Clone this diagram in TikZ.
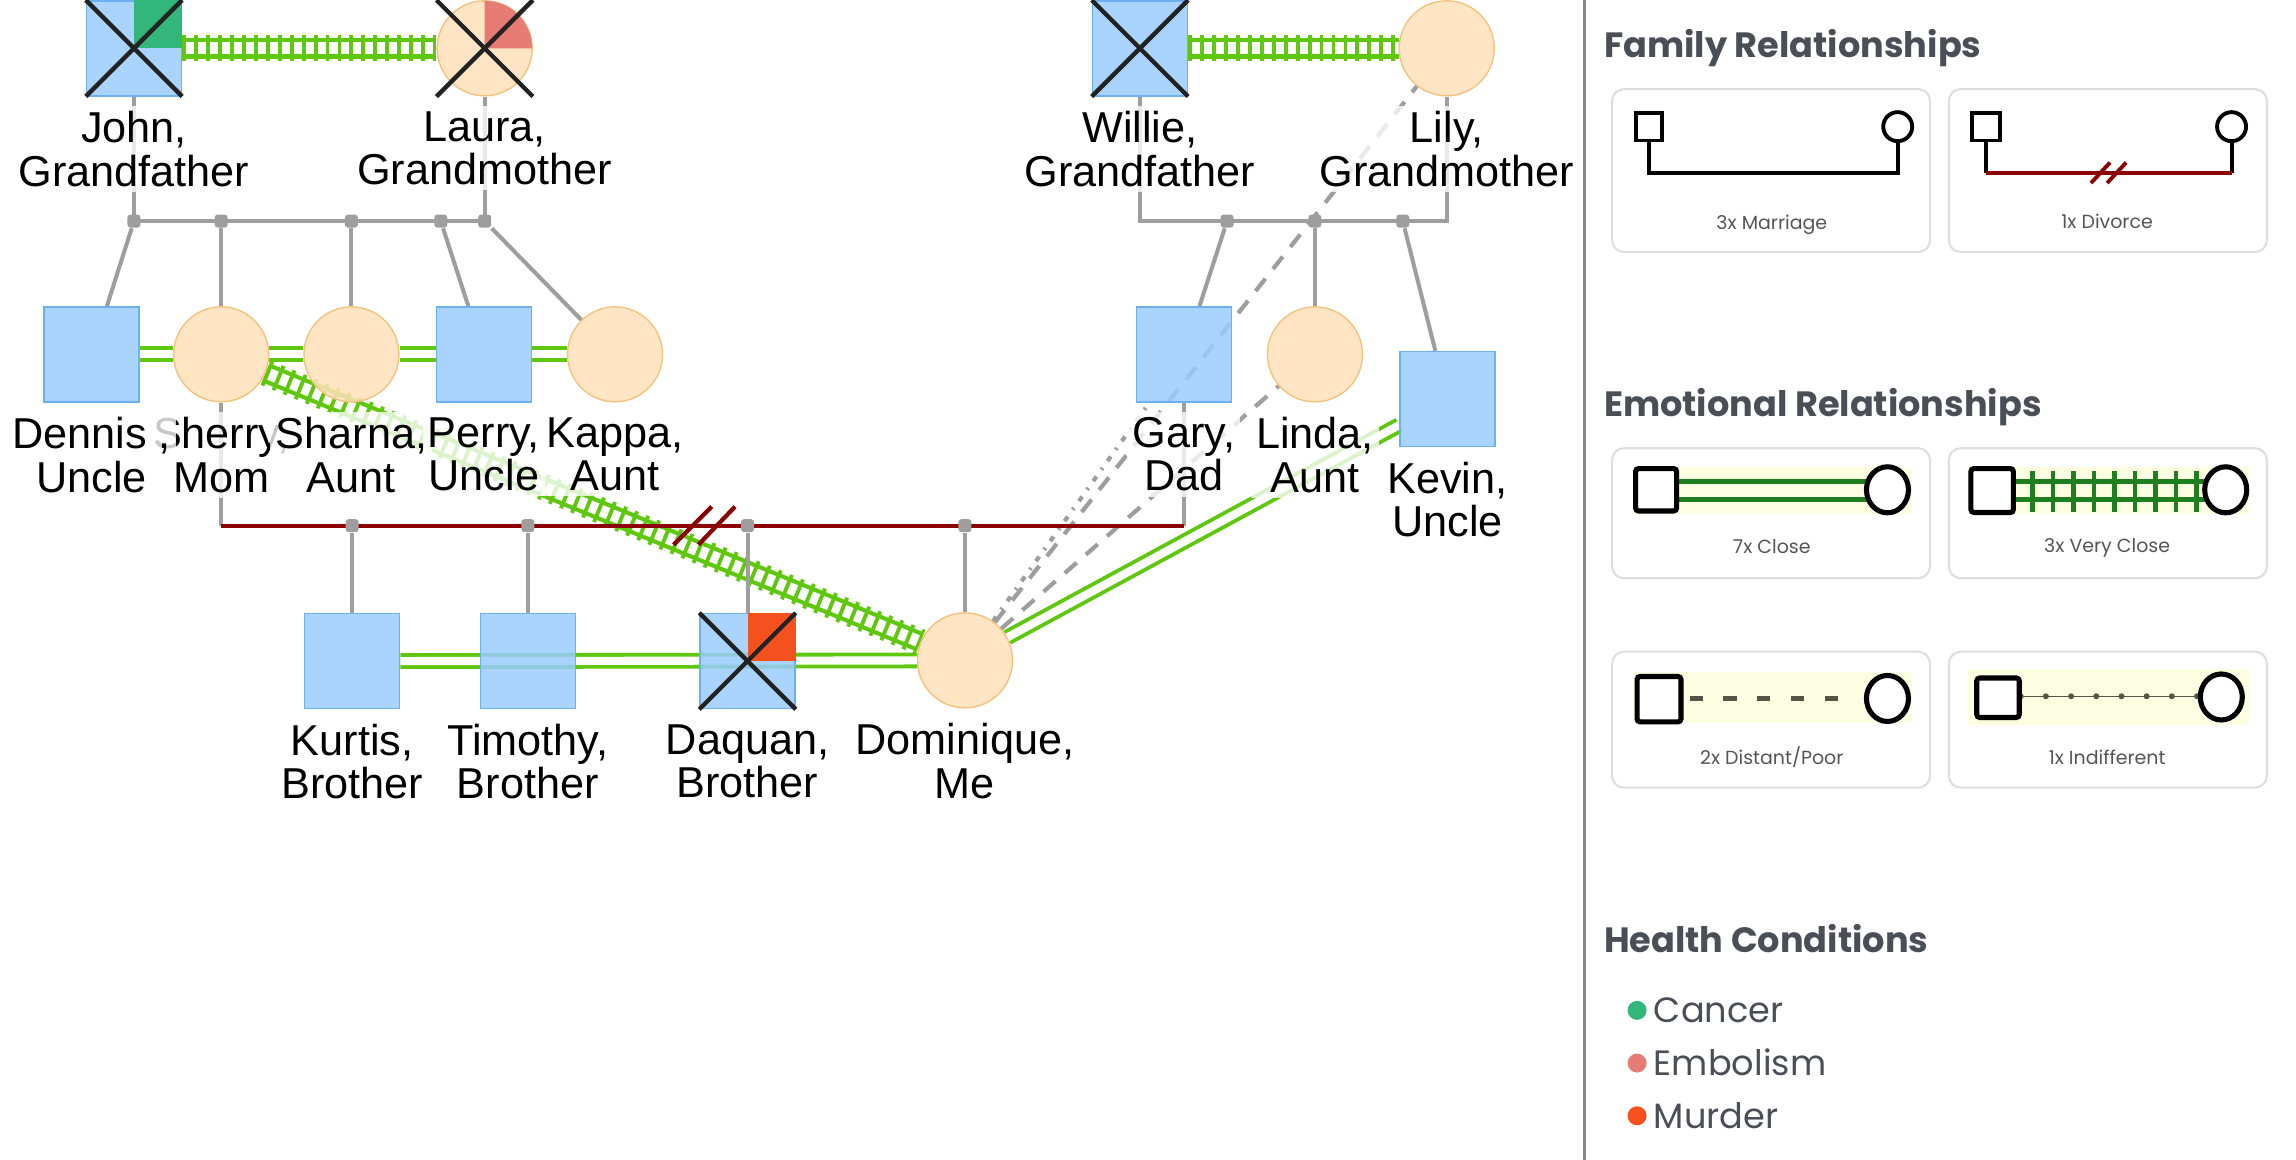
\documentclass[tikz,border=0pt]{standalone}
\usepackage{fontspec}
\setmainfont{Liberation Sans}
\newfontfamily\legendfont{Poppins}
\usetikzlibrary{positioning,backgrounds}

\definecolor{maleblue}{HTML}{99CCFF}
\definecolor{maleedge}{HTML}{6BB0F2}
\definecolor{femfill}{HTML}{FFE1B9}
\definecolor{femedge}{HTML}{F5C27E}
\definecolor{cancer}{HTML}{33B679}
\definecolor{embolism}{HTML}{E67C73}
\definecolor{murder}{HTML}{F4511E}
\definecolor{closegreen}{HTML}{5FC80E}
\definecolor{famgray}{HTML}{9E9E9E}
\definecolor{divred}{HTML}{8B0000}
\definecolor{deadblack}{HTML}{222222}
\definecolor{headgray}{HTML}{4A4F57}
\definecolor{cardedge}{HTML}{DEDEDE}
\definecolor{cardtext}{HTML}{555555}
\definecolor{divider}{HTML}{888888}
\definecolor{iconbg}{HTML}{FCFDE1}
\definecolor{icongreen}{HTML}{1E7F1E}
\definecolor{dashicon}{HTML}{545447}

\begin{document}
\begin{tikzpicture}[
  x=0.14643mm, y=-0.14643mm,
  male/.style={draw=maleedge, fill=maleblue, fill opacity=0.85, text opacity=1, minimum size=9.5mm, inner sep=0pt, line width=0.4pt},
  female/.style={male, circle, draw=femedge, fill=femfill},
  who/.style={font=\fontsize{12.3}{12.3}\selectfont, align=center, inner sep=1.5pt, fill=white, fill opacity=0.78, text opacity=1},
  junct/.style={fill=famgray, minimum size=1.3mm, inner sep=0pt, rounded corners=0.3mm},
  famline/.style={draw=famgray, line width=1.15pt},
  divline/.style={draw=divred, line width=1.2pt},
  closeline/.style={draw=closegreen, line width=1.1pt, double=white, double distance=2.3pt},
  vcloseline/.style={draw=closegreen, line width=1.2pt, double=white, double distance=3.4pt,
    postaction={draw=closegreen, line width=7.5pt, dash pattern=on 1.1pt off 2.3pt}},
  distline/.style={draw=famgray, line width=1.2pt, dash pattern=on 4.5pt off 3.5pt},
  indline/.style={draw=famgray, line width=1.2pt, dash pattern=on 1.6pt off 2.4pt on 0.6pt off 2.4pt},
  dead/.style={draw=deadblack, line width=1.25pt},
  card/.style={draw=cardedge, line width=0.6pt, rounded corners=1.2mm, minimum width=31.8mm, inner sep=0pt},
  head/.style={font=\legendfont\bfseries\fontsize{10}{12}\selectfont, text=headgray, anchor=base west, inner sep=0pt},
  cardlabel/.style={font=\legendfont\fontsize{5.4}{6}\selectfont, text=cardtext, anchor=base, inner sep=0pt},
  ill/.style={font=\legendfont\fontsize{10}{12}\selectfont, text=headgray, anchor=base west, inner sep=0pt},
  iconbox/.style={draw=black, line width=1.1pt, fill=white},
  iconfat/.style={draw=black, line width=1.45pt, fill=white, rounded corners=0.3mm}
]
\useasboundingbox (0,0) rectangle (1568,792);

% grandparents
\node[male]   (john)   at (91.5,33)  {};
\node[female] (laura)  at (331,33)   {};
\node[male]   (willie) at (778.5,33) {};
\node[female] (lily)   at (988,33)   {};
% second generation
\node[male]   (dennis) at (62.5,242)  {};
\node[female] (sherry) at (151,242)   {};
\node[female] (sharna) at (240,242)   {};
\node[male]   (perry)  at (330.5,242) {};
\node[female] (kappa)  at (420,242)   {};
\node[male]   (gary)   at (808.5,242) {};
\node[female] (linda)  at (898,242)   {};
\node[male]   (kevin)  at (988.5,272.5) {};
% children
\node[male]   (kurtis)    at (240.5,451.5) {};
\node[male]   (timothy)   at (360.5,451.5) {};
\node[male]   (daquan)    at (510.5,451.5) {};
\node[female] (dominique) at (659,451)     {};

% junctions
\node[junct] (jj1) at (91.5,151) {};
\node[junct] (jj2) at (151,151) {};
\node[junct] (jj3) at (240,151) {};
\node[junct] (jj4) at (301,151) {};
\node[junct] (jj5) at (331,151) {};
\node[junct] (jw1) at (838,151) {};
\node[junct] (jw2) at (898,151) {};
\node[junct] (jw3) at (958,151) {};
\node[junct] (jd1) at (240.5,359) {};
\node[junct] (jd2) at (360.5,359) {};
\node[junct] (jd3) at (510.5,359) {};
\node[junct] (jd4) at (659,359) {};
\coordinate (split) at (481,359);

\begin{pgfonlayer}{background}
  % emotional ties
  \draw[vcloseline] (john) -- (laura);
  \draw[vcloseline] (willie) -- (lily);
  \draw[vcloseline] (sherry) -- (dominique);
  \draw[closeline] (dennis) -- (sherry);
  \draw[closeline] (sherry) -- (sharna);
  \draw[closeline] (sharna) -- (perry);
  \draw[closeline] (perry) -- (kappa);
  \draw[closeline] (kurtis) -- (dominique);
  \draw[closeline] (dominique) -- (kevin);
  \draw[distline] (dominique) -- (lily);
  \draw[distline] (dominique) -- (linda);
  \draw[indline] (dominique) -- (gary);
  % family lines
  \draw[famline] (john) -- (jj1.center) -- (jj5.center) -- (laura);
  \draw[famline] (willie) -- (willie |- jw1) -- (lily |- jw3) -- (lily);
  \foreach \a/\b in {jj1/dennis,jj2/sherry,jj3/sharna,jj4/perry,jj5/kappa,jw1/gary,jw2/linda,jw3/kevin,jd1/kurtis,jd2/timothy,jd3/daquan,jd4/dominique}
    \draw[famline] (\a) -- (\b);
  \draw[famline] (sherry) -- (sherry |- jd1);
  \draw[famline] (gary) -- (gary |- jd1);
  \draw[divline] (sherry |- jd1) -- (gary |- jd1);
  \draw[divline] ([shift={(-21,13)}]split) -- ([shift={(5,-13)}]split);
  \draw[divline] ([shift={(-4,13)}]split) -- ([shift={(21,-13)}]split);
\end{pgfonlayer}

% health and deaths
\fill[cancer] (john.center) rectangle (john.north east);
\fill[embolism] (laura.center) -- ++(4.75mm,0) arc[start angle=0, end angle=90, radius=4.75mm] -- cycle;
\fill[murder] (daquan.center) rectangle (daquan.north east);
\foreach \pp in {john,laura,willie,daquan}{
  \draw[dead] (\pp.west |- \pp.north) -- (\pp.east |- \pp.south);
  \draw[dead] (\pp.east |- \pp.north) -- (\pp.west |- \pp.south);
}

% names
\node[who, below=0.9mm of john]   (johnl)   {John,\\Grandfather};
\node[who, below=0.9mm of laura]  (laural)  {Laura,\\Grandmother};
\node[who, below=0.9mm of willie] (williel) {Willie,\\Grandfather};
\node[who, below=0.9mm of lily]   (lilyl)   {Lily,\\Grandmother};
\node[who, below=0.9mm of sherry] (sherryl) {Sherry,\\Mom};
\node[who, below=0.9mm of dennis] (dennisl) {Dennis ,\\Uncle};
\node[who, below=0.9mm of sharna] (sharnal) {Sharna,\\Aunt};
\node[who, below=0.9mm of perry]  (perryl)  {Perry,\\Uncle};
\node[who, below=0.9mm of kappa]  (kappal)  {Kappa,\\Aunt};
\node[who, below=0.9mm of gary]   (garyl)   {Gary,\\Dad};
\node[who, below=0.9mm of linda]  (lindal)  {Linda,\\Aunt};
\node[who, below=0.9mm of kevin]  (kevinl)  {Kevin,\\Uncle};
\node[who, below=0.9mm of kurtis]    (kurtisl)    {Kurtis,\\Brother};
\node[who, below=0.9mm of timothy]   (timothyl)   {Timothy,\\Brother};
\node[who, below=0.9mm of daquan]    (daquanl)    {Daquan,\\Brother};
\node[who, below=0.9mm of dominique] (dominiquel) {Dominique,\\Me};

% legend
\draw[divider, line width=0.8pt] (1082,0) -- (1082,792);
\node[head] (famhead) at (1095,39.5) {Family Relationships};
\node[card, minimum height=16.3mm] (cmarr) at (1209.5,116.5) {};
\node[card, minimum height=16.3mm] (cdiv)  at (1439.5,116.5) {};
\draw[line width=1.1pt] (1126,96) -- (1126,118) -- (1296,118) -- (1296,96);
\draw[iconbox] (1117,77) rectangle (1135,96);
\draw[iconbox] (1296,86.5) circle[radius=1.45mm];
\node[cardlabel] (tmarr) at (1210,156.5) {3x Marriage};
\draw[line width=1.1pt] (1356.5,96) -- (1356.5,118);
\draw[line width=1.1pt] (1524,96) -- (1524,118);
\draw[divred, line width=1.1pt] (1356.5,118) -- (1524,118);
\draw[divred, line width=1.1pt] (1428,125) -- (1441,111);
\draw[divred, line width=1.1pt] (1439,125) -- (1452,111);
\draw[iconbox] (1347,77) rectangle (1366,96);
\draw[iconbox] (1524,86.5) circle[radius=1.45mm];
\node[cardlabel] (tdiv) at (1439,156) {1x Divorce};

\node[head] (emohead) at (1095,284.5) {Emotional Relationships};
\node[card, minimum height=13mm] (cclose)  at (1209.5,350.5) {};
\node[card, minimum height=13mm] (cvclose) at (1439.5,350.5) {};
\node[card, minimum height=13.6mm] (cdist) at (1209.5,491.5) {};
\node[card, minimum height=13.6mm] (cind)  at (1439.5,491.5) {};
% close
\fill[iconbg] (1115,319) rectangle (1306,351);
\draw[icongreen, line width=1.4pt] (1145,329) -- (1275,329);
\draw[icongreen, line width=1.4pt] (1145,341) -- (1275,341);
\draw[iconfat] (1117,320) rectangle (1145,349);
\draw[iconfat] (1289,334.5) ellipse[x radius=2.1mm, y radius=2.3mm];
\node[cardlabel] (tclose) at (1210,378) {7x Close};
% very close
\fill[iconbg] (1344,319) rectangle (1536,351);
\draw[icongreen, line width=1.4pt] (1375,329) -- (1506,329);
\draw[icongreen, line width=1.4pt] (1375,341) -- (1506,341);
\foreach \k in {0,...,8}
  \draw[icongreen, line width=1.25pt] (1388+14*\k,322) -- (1388+14*\k,350);
\draw[iconfat] (1346,320) rectangle (1375,350);
\draw[iconfat] (1520,334.5) ellipse[x radius=2.1mm, y radius=2.3mm];
\node[cardlabel] (tvclose) at (1439,377.5) {3x Very Close};
% distant
\fill[iconbg] (1115,459) rectangle (1306,494);
\draw[dashicon, line width=1.4pt, dash pattern=on 1.32mm off 2.05mm] (1154,477) -- (1262,477);
\draw[iconfat] (1118,462) rectangle (1148,493);
\draw[iconfat] (1289,477) ellipse[x radius=2.1mm, y radius=2.3mm];
\node[cardlabel] (tdist) at (1210,522) {2x Distant/Poor};
% indifferent
\fill[iconbg] (1344,457) rectangle (1536,495);
\draw[dashicon, line width=0.3pt] (1379,475.5) -- (1502,475.5);
\foreach \k in {0,...,7}
  \fill[dashicon] (1380+17.2*\k,475.5) circle[radius=0.3mm];
\draw[iconfat] (1350,463) rectangle (1379,490);
\draw[iconfat] (1517,476) ellipse[x radius=2.1mm, y radius=2.3mm];
\node[cardlabel] (tind) at (1439,522) {1x Indifferent};

\node[head] (healthhead) at (1095,650.5) {Health Conditions};
\fill[cancer]   (1118,690) circle[radius=0.95mm];
\fill[embolism] (1118,726) circle[radius=0.95mm];
\fill[murder]   (1118,762) circle[radius=0.95mm];
\node[ill] (tcancer)   at (1129,698.5) {Cancer};
\node[ill] (tembolism) at (1129,734.5) {Embolism};
\node[ill] (tmurder)   at (1129,770.5) {Murder};
\end{tikzpicture}
\end{document}
